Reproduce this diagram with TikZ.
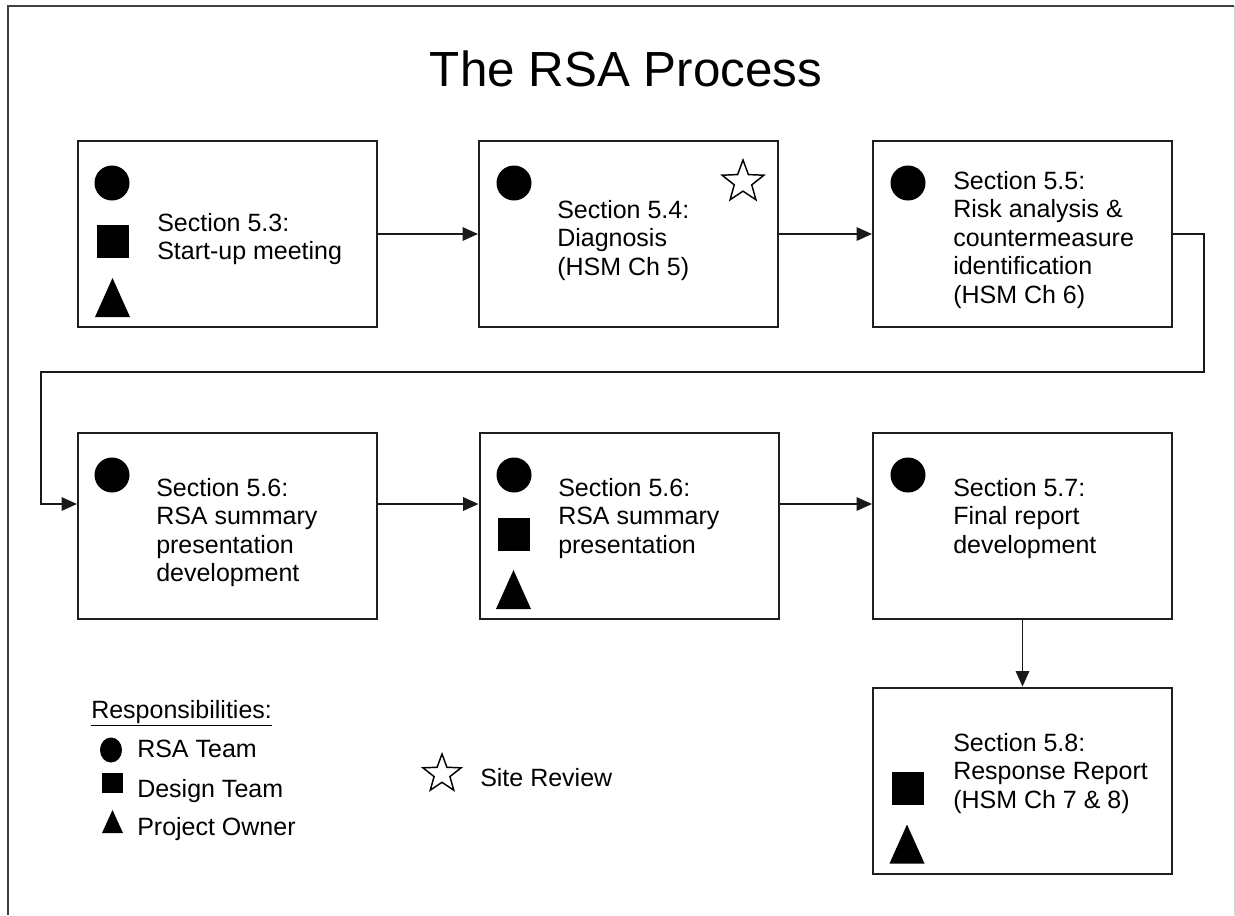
\documentclass[tikz,border=0pt]{standalone}
\usepackage{fontspec}
\setmainfont{Liberation Sans}
\usetikzlibrary{arrows.meta,shapes.geometric}

\tikzset{
  % responsibility markers, drawn in pixel units
  rsadot/.pic={\fill (0,0) circle[radius=17.5];},
  rsasquare/.pic={\fill (-16,-16.5) rectangle (16,16.5);},
  rsatri/.pic={\fill (-17.5,19.5) -- (17.5,19.5) -- (0,-19.5) -- cycle;},
  keydot/.pic={\fill (0,0) ellipse[x radius=11, y radius=12.5];},
  keysquare/.pic={\fill (-10.5,-10) rectangle (10.5,10);},
  keytri/.pic={\fill (-10.5,11.5) -- (10.5,11.5) -- (0,-11.5) -- cycle;},
}

\begin{document}
\begin{tikzpicture}[x=0.75pt,y=-0.75pt,
  stage/.style={draw=black!88, line width=1.5pt, minimum width=224.25pt,
    minimum height=139.5pt, inner sep=0pt},
  stagetext/.style={anchor=north west, align=left, inner sep=0pt,
    font=\fontsize{18.75pt}{21.4pt}\selectfont},
  keytext/.style={anchor=base west, inner sep=0pt,
    font=\fontsize{18.75pt}{21.4pt}\selectfont},
  sitestar/.style={star, star points=5, star point ratio=2.4, draw=black,
    line width=1.1pt, inner sep=0pt},
  flow/.style={draw=black!90, line width=1.4pt, -{Triangle[length=11.5pt,width=10pt]}},
]
\useasboundingbox (0,0) rectangle (1235,915);

% page frame
\draw[line width=1.5pt, black!75] (8,915) -- (8,6) -- (1234,6);
\draw[line width=0.75pt, black!18] (1234,6) -- (1234,915);

% title
\node[anchor=base, inner sep=0pt, font=\fontsize{37pt}{44pt}\selectfont]
  (title) at (626,86) {The RSA Process};

% process steps
\node[stage] (b1) at (227.5,234) {};
\node[stage] (b2) at (628.5,234) {};
\node[stage] (b3) at (1022.5,234) {};
\node[stage] (b4) at (227.5,526) {};
\node[stage] (b5) at (629,526) {};
\node[stage] (b6) at (1022.5,526) {};
\node[stage] (b7) at (1022.5,780.5) {};

\node[stagetext] (t1) at (157,213) {Section 5.3:\\Start-up meeting};
\node[stagetext] (t2) at (557,200) {Section 5.4:\\Diagnosis\\(HSM Ch 5)};
\node[stagetext] (t3) at (953,171) {Section 5.5:\\Risk analysis \&\\countermeasure\\identification\\(HSM Ch 6)};
\node[stagetext] (t4) at (156,478) {Section 5.6:\\RSA summary\\presentation\\development};
\node[stagetext] (t5) at (558,478) {Section 5.6:\\RSA summary\\presentation};
\node[stagetext] (t6) at (953,478) {Section 5.7:\\Final report\\development};
\node[stagetext] (t7) at (953,733) {Section 5.8:\\Response Report\\(HSM Ch 7 \& 8)};

% who is responsible for each step
\pic at (112,183) {rsadot};
\pic at (113,241.5) {rsasquare};
\pic at (112.5,297.5) {rsatri};
\pic at (514,183) {rsadot};
\node[sitestar, minimum size=33pt] (s2) at (743,182) {};
\pic at (908,183) {rsadot};
\pic at (112,475) {rsadot};
\pic at (514,475) {rsadot};
\pic at (514,534) {rsasquare};
\pic at (513.5,589.5) {rsatri};
\pic at (908,475) {rsadot};
\pic at (908,788.5) {rsasquare};
\pic at (907,844) {rsatri};

% flow between steps
\coordinate (loopR) at (1204,372);
\coordinate (loopL) at (41,372);
\draw[flow] (b1.east) -- (b2.west);
\draw[flow] (b2.east) -- (b3.west);
\draw[flow] (b3.east) -| (loopR) -- (loopL) |- ([yshift=16.5pt]b4.west);
\draw[flow] ([yshift=16.5pt]b4.east) -- ([yshift=16.5pt]b5.west);
\draw[flow] ([yshift=16.5pt]b5.east) -- ([yshift=16.5pt]b6.west);
\draw[flow] (b6.south) -- (b7.north);

% key
\node[keytext] (k0) at (91,718) {\underline{Responsibilities:}};
\pic at (111,750) {keydot};
\node[keytext] (k1) at (137,757) {RSA Team};
\pic at (112.5,783) {keysquare};
\node[keytext] (k2) at (137,797) {Design Team};
\pic at (112.5,821.5) {keytri};
\node[keytext] (k3) at (137,835) {Project Owner};
\node[sitestar, minimum size=30pt] (k4s) at (442,774) {};
\node[keytext] (k4) at (480,786) {Site Review};
\end{tikzpicture}
\end{document}
